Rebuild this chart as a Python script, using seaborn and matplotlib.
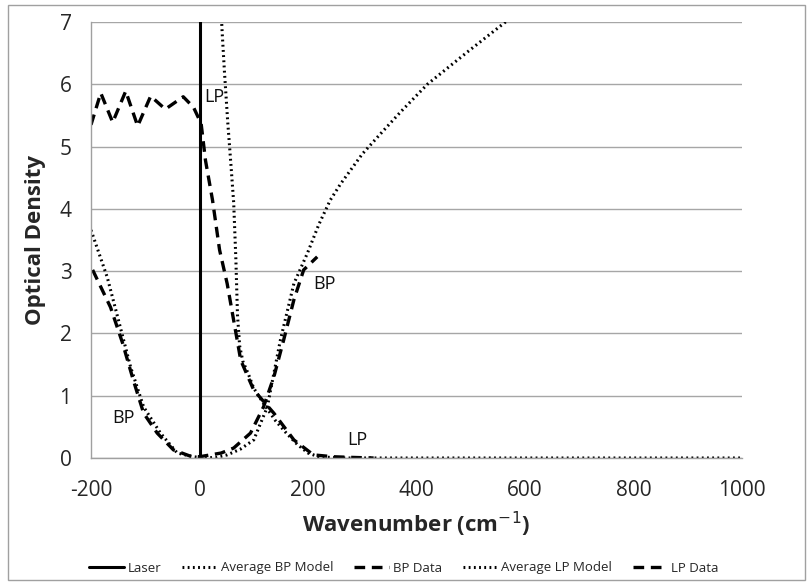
import matplotlib
matplotlib.use("Agg")
import matplotlib.pyplot as plt
import seaborn as sns
import numpy as np
import pandas as pd
from matplotlib.patches import Rectangle

# ---------------- data ----------------
laser_x = [0, 0]
laser_y = [0, 7.5]

bp_model_x = [-200, -170, -146, -127, -103, -72, -41, -11, 10, 30, 51, 75, 100, 125, 149, 174, 199, 220, 241, 260, 280, 300, 330, 370, 420, 494, 564, 600]
bp_model_y = [3.66, 2.9, 2.1, 1.46, 0.82, 0.4, 0.08, 0.02, 0.0, 0.01, 0.05, 0.14, 0.29, 0.82, 1.89, 2.8, 3.29, 3.75, 4.14, 4.4, 4.64, 4.88, 5.17, 5.55, 6.0, 6.52, 7.0, 7.3]

bp_data_x = [-197, -164, -142, -122, -103, -78, -48, -17, 0, 20, 40, 63, 94, 118, 137, 155, 174, 192, 217]
bp_data_y = [3.02, 2.42, 1.85, 1.25, 0.72, 0.4, 0.13, 0.03, 0.02, 0.05, 0.08, 0.16, 0.4, 0.82, 1.3, 1.89, 2.54, 3.02, 3.23]

lp_model_x = [39, 42, 46, 52, 58, 63, 67, 70, 74, 80, 90, 100, 120, 140, 160, 180, 200, 220, 260, 400, 600, 800, 1000]
lp_model_y = [7.3, 6.8, 6.2, 5.4, 4.7, 4.1, 3.2, 2.3, 1.8, 1.55, 1.35, 1.12, 0.85, 0.6, 0.4, 0.22, 0.08, 0.02, 0.0, 0.0, 0.0, 0.0, 0.0]

lp_data_x = [-200, -182, -160, -136, -114, -90, -63, -30, -11, 3, 11, 24, 37, 51, 76, 100, 137, 174, 210, 247, 280, 321]
lp_data_y = [5.35, 5.86, 5.39, 5.89, 5.33, 5.81, 5.6, 5.8, 5.63, 5.37, 4.78, 4.14, 3.34, 2.8, 1.57, 1.09, 0.72, 0.29, 0.05, 0.02, 0.01, 0.0]

x_ticks = [-200, 0, 200, 400, 600, 800, 1000]
y_ticks = [0, 1, 2, 3, 4, 5, 6, 7]

annotations = [("LP", 8, 5.79), ("BP", 210, 2.8), ("BP", -160, 0.64), ("LP", 272, 0.29)]

# ---------------- plot ----------------
sns.set_style("white")
plt.rcParams['font.family'] = ['Open Sans', 'DejaVu Sans']
plt.rcParams['axes.unicode_minus'] = False

fig = plt.figure(figsize=(8.07, 5.85), dpi=100)
ax = fig.add_axes([91/807, 1-458/585, (742-91)/807, (458-22)/585])

dash = (0, (3.2, 2.0))
dot = (0, (0.6, 1.1))

sns.lineplot(x=laser_x, y=laser_y, ax=ax, color='black', lw=2.2, sort=False,
             label='Laser', estimator=None)
sns.lineplot(x=bp_model_x, y=bp_model_y, ax=ax, color='black', lw=2.2, sort=False,
             linestyle=dot, label='Average BP Model', estimator=None)
sns.lineplot(x=bp_data_x, y=bp_data_y, ax=ax, color='black', lw=2.4, sort=False,
             linestyle=dash, label='BP Data', estimator=None)
sns.lineplot(x=lp_model_x, y=lp_model_y, ax=ax, color='black', lw=2.2, sort=False,
             linestyle=dot, label='Average LP Model', estimator=None)
sns.lineplot(x=lp_data_x, y=lp_data_y, ax=ax, color='black', lw=2.4, sort=False,
             linestyle=dash, label='LP Data', estimator=None)

for txt, xx, yy in annotations:
    ax.text(xx, yy, txt, fontsize=13, va='center', ha='left', color='#111111')

ax.set_xlim(-200, 1000)
ax.set_ylim(0, 7)
ax.set_xticks(x_ticks)
ax.set_yticks(y_ticks)
ax.tick_params(axis='both', labelsize=15, length=6, color='#a0a0a0', width=1,
               direction='out')
ax.tick_params(axis='x', pad=10)
ax.tick_params(axis='y', pad=8)
ax.yaxis.grid(True, color='#a6a6a6', lw=1)
ax.xaxis.grid(False)
for s in ['top', 'right']:
    ax.spines[s].set_visible(False)
for s in ['left', 'bottom']:
    ax.spines[s].set_color('#a0a0a0')
    ax.spines[s].set_linewidth(1)
ax.set_axisbelow(True)

ax.set_xlabel('Wavenumber (cm$^{-1}$)', fontsize=16, fontweight='bold', labelpad=6)
ax.set_ylabel('Optical Density', fontsize=16, fontweight='bold', labelpad=10)

leg = ax.legend(loc='center', bbox_to_anchor=(404/807, 1-568/585),
                bbox_transform=fig.transFigure, ncol=5, frameon=False,
                fontsize=9.5, handlelength=2.6, columnspacing=1.6, handletextpad=0.3)

fig.patches.append(Rectangle((8/807, 1-580/585), (805-8)/807, (580-5)/585,
                             transform=fig.transFigure, fill=False,
                             edgecolor='#a0a0a0', lw=1))

fig.savefig('out.png', dpi=100)
